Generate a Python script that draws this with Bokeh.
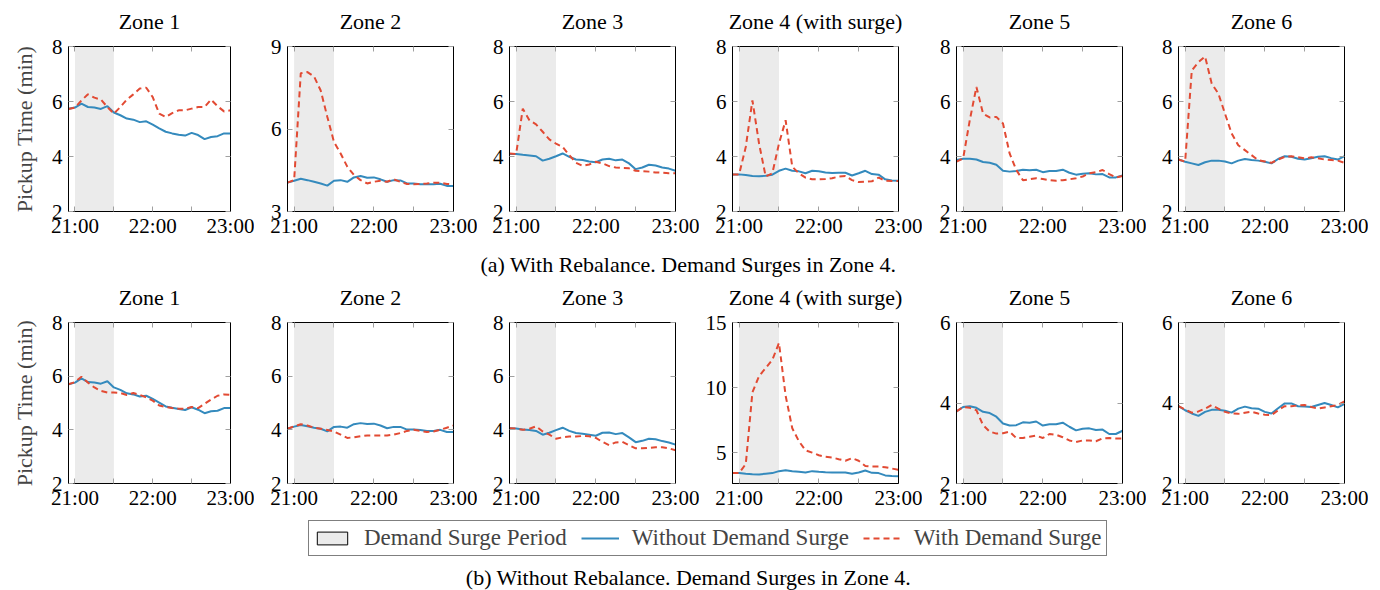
from bokeh.plotting import figure
from bokeh.models import (Range1d, LinearAxis, FixedTicker, BoxAnnotation, Legend,
                          LegendItem, Label, ColumnDataSource)
from bokeh.layouts import column, row
from bokeh.embed import file_html
from bokeh.resources import INLINE

# ---------------- data ----------------
times = ["20:55", "21:00", "21:05", "21:10", "21:15", "21:20", "21:25", "21:30", "21:35",
         "21:40", "21:45", "21:50", "21:55", "22:00", "22:05", "22:10", "22:15", "22:20",
         "22:25", "22:30", "22:35", "22:40", "22:45", "22:50", "22:55", "23:00"]
surge_period = ["21:00", "21:30"]
x_label_ticks = ["21:00", "22:00", "23:00"]
x_minor_ticks = ["21:30", "22:30"]
zones = ["Zone 1", "Zone 2", "Zone 3", "Zone 4 (with surge)", "Zone 5", "Zone 6"]

# (a) With Rebalance
a1_wo = [5.74, 5.78, 5.92, 5.80, 5.78, 5.73, 5.83, 5.60, 5.50, 5.38, 5.34, 5.25, 5.28, 5.16, 5.02, 4.90, 4.84, 4.79, 4.76, 4.86, 4.78, 4.63, 4.71, 4.74, 4.84, 4.84]
a1_w = [5.73, 5.78, 6.04, 6.26, 6.14, 6.07, 5.80, 5.56, 5.80, 6.07, 6.26, 6.47, 6.50, 6.16, 5.56, 5.44, 5.58, 5.68, 5.68, 5.74, 5.80, 5.80, 6.07, 5.83, 5.64, 5.68]
a2_wo = [4.05, 4.12, 4.19, 4.14, 4.08, 4.02, 3.94, 4.12, 4.14, 4.08, 4.24, 4.29, 4.23, 4.24, 4.17, 4.08, 4.14, 4.13, 4.02, 4.02, 3.99, 3.99, 3.99, 4.01, 3.93, 3.93]
a2_w = [4.05, 4.14, 8.03, 8.07, 7.91, 7.40, 6.44, 5.53, 5.11, 4.63, 4.33, 4.14, 4.02, 4.08, 4.12, 4.08, 4.17, 4.08, 4.00, 3.99, 4.00, 4.02, 4.05, 4.05, 4.00, 3.99]
a3_wo = [4.09, 4.09, 4.06, 4.04, 4.01, 3.85, 3.92, 4.01, 4.11, 3.99, 3.89, 3.87, 3.82, 3.79, 3.89, 3.92, 3.86, 3.89, 3.75, 3.54, 3.60, 3.70, 3.67, 3.60, 3.56, 3.48]
a3_w = [4.11, 4.09, 5.74, 5.32, 5.17, 4.90, 4.62, 4.47, 4.35, 4.05, 3.77, 3.66, 3.71, 3.81, 3.75, 3.65, 3.60, 3.58, 3.57, 3.48, 3.47, 3.45, 3.42, 3.41, 3.39, 3.39]
a4_wo = [3.35, 3.35, 3.33, 3.29, 3.28, 3.30, 3.34, 3.48, 3.56, 3.48, 3.46, 3.39, 3.48, 3.46, 3.42, 3.40, 3.41, 3.41, 3.31, 3.39, 3.48, 3.36, 3.34, 3.17, 3.13, 3.12]
a4_w = [3.35, 3.35, 4.35, 6.04, 4.47, 3.27, 3.39, 4.47, 5.32, 3.63, 3.39, 3.23, 3.17, 3.17, 3.18, 3.21, 3.27, 3.29, 3.14, 3.07, 3.08, 3.10, 3.23, 3.12, 3.11, 3.11]
a5_wo = [3.87, 3.92, 3.92, 3.89, 3.80, 3.77, 3.70, 3.48, 3.45, 3.47, 3.52, 3.50, 3.52, 3.43, 3.47, 3.47, 3.52, 3.41, 3.34, 3.37, 3.39, 3.35, 3.36, 3.24, 3.24, 3.31]
a5_w = [3.81, 3.93, 5.32, 6.53, 5.56, 5.42, 5.44, 5.20, 4.11, 3.51, 3.14, 3.17, 3.21, 3.18, 3.14, 3.12, 3.14, 3.17, 3.21, 3.27, 3.39, 3.43, 3.51, 3.36, 3.24, 3.29]
a6_wo = [3.89, 3.81, 3.75, 3.69, 3.79, 3.85, 3.85, 3.82, 3.75, 3.85, 3.91, 3.87, 3.85, 3.81, 3.75, 3.91, 4.01, 3.99, 3.92, 3.89, 3.94, 3.99, 4.01, 3.94, 3.89, 4.01]
a6_w = [3.89, 3.81, 7.13, 7.43, 7.64, 6.65, 6.29, 5.56, 4.84, 4.41, 4.23, 4.05, 3.87, 3.82, 3.77, 3.89, 3.99, 4.01, 3.97, 3.93, 3.97, 3.94, 3.89, 3.87, 3.85, 3.77]

# (b) Without Rebalance
b1_wo = [5.70, 5.76, 5.92, 5.78, 5.76, 5.72, 5.81, 5.58, 5.49, 5.36, 5.32, 5.24, 5.27, 5.15, 5.01, 4.87, 4.82, 4.78, 4.74, 4.84, 4.75, 4.62, 4.69, 4.71, 4.81, 4.81]
b1_w = [5.70, 5.78, 5.98, 5.76, 5.58, 5.45, 5.39, 5.39, 5.37, 5.30, 5.37, 5.30, 5.21, 5.09, 4.91, 4.85, 4.81, 4.79, 4.79, 4.85, 4.81, 4.97, 5.13, 5.27, 5.32, 5.30]
b2_wo = [4.04, 4.12, 4.18, 4.13, 4.08, 4.04, 3.94, 4.11, 4.12, 4.08, 4.21, 4.25, 4.22, 4.23, 4.16, 4.06, 4.11, 4.11, 4.01, 4.01, 3.99, 3.96, 3.96, 4.00, 3.92, 3.92]
b2_w = [4.04, 4.13, 4.21, 4.16, 4.08, 4.04, 3.99, 3.94, 3.82, 3.70, 3.72, 3.76, 3.79, 3.79, 3.79, 3.79, 3.82, 3.88, 3.96, 4.00, 3.96, 3.92, 3.94, 4.00, 4.08, 4.16]
b3_wo = [4.06, 4.05, 4.01, 3.99, 3.96, 3.82, 3.89, 3.99, 4.08, 3.96, 3.88, 3.85, 3.82, 3.78, 3.89, 3.90, 3.84, 3.88, 3.72, 3.54, 3.59, 3.67, 3.65, 3.58, 3.53, 3.45]
b3_w = [4.06, 4.05, 4.00, 4.04, 4.13, 3.94, 3.82, 3.67, 3.72, 3.75, 3.75, 3.77, 3.76, 3.70, 3.55, 3.43, 3.53, 3.55, 3.43, 3.31, 3.31, 3.33, 3.35, 3.35, 3.31, 3.24]
b4_wo = [3.43, 3.43, 3.38, 3.35, 3.33, 3.38, 3.43, 3.58, 3.65, 3.58, 3.53, 3.48, 3.58, 3.53, 3.50, 3.48, 3.48, 3.48, 3.38, 3.48, 3.63, 3.45, 3.43, 3.25, 3.20, 3.18]
b4_w = [3.43, 3.43, 4.13, 9.63, 10.88, 11.50, 12.13, 13.43, 9.38, 6.88, 5.88, 5.18, 5.00, 4.80, 4.68, 4.63, 4.50, 4.38, 4.58, 4.38, 3.98, 3.93, 3.93, 3.88, 3.78, 3.68]
b5_wo = [3.79, 3.90, 3.92, 3.88, 3.78, 3.75, 3.66, 3.49, 3.44, 3.45, 3.52, 3.51, 3.54, 3.44, 3.47, 3.47, 3.51, 3.41, 3.32, 3.36, 3.37, 3.33, 3.34, 3.23, 3.23, 3.31]
b5_w = [3.79, 3.90, 3.88, 3.82, 3.45, 3.29, 3.24, 3.25, 3.29, 3.13, 3.13, 3.16, 3.19, 3.13, 3.23, 3.21, 3.15, 3.07, 3.03, 3.07, 3.07, 3.05, 3.12, 3.13, 3.12, 3.12]
b6_wo = [3.92, 3.82, 3.74, 3.68, 3.78, 3.83, 3.83, 3.81, 3.76, 3.86, 3.91, 3.87, 3.86, 3.78, 3.74, 3.87, 3.99, 3.99, 3.92, 3.91, 3.90, 3.95, 4.00, 3.95, 3.89, 3.98]
b6_w = [3.92, 3.84, 3.76, 3.79, 3.86, 3.95, 3.86, 3.78, 3.74, 3.73, 3.76, 3.78, 3.74, 3.71, 3.70, 3.82, 3.92, 3.92, 3.94, 3.95, 3.90, 3.86, 3.89, 3.92, 3.95, 4.04]

ylims_a = [(2, 8), (3, 9), (2, 8), (2, 8), (2, 8), (2, 8)]
yticks_a = [[2, 4, 6, 8], [3, 6, 9], [2, 4, 6, 8], [2, 4, 6, 8], [2, 4, 6, 8], [2, 4, 6, 8]]
ylims_b = [(2, 8), (2, 8), (2, 8), (2.63, 15), (2, 6), (2, 6)]
yticks_b = [[2, 4, 6, 8], [2, 4, 6, 8], [2, 4, 6, 8], [5, 10, 15], [2, 4, 6], [2, 4, 6]]

caption_a = "(a) With Rebalance. Demand Surges in Zone 4."
caption_b = "(b) Without Rebalance. Demand Surges in Zone 4."
y_label = "Pickup Time (min)"
legend_labels = ["Demand Surge Period", "Without Demand Surge", "With Demand Surge"]

# ---------------- style ----------------
FONT = "Liberation Serif"
TICK_FS = "21px"
TITLE_FS = "22px"
BLUE = "#348ABD"
RED = "#E24A33"
SHADE = "#ebebeb"
TICKC = "#a0a0a0"
DASH = "6 4"


def mins(t):
    h, m = t.split(":")
    return int(h) * 60 + int(m)


xs = [mins(t) for t in times]
x_major = [mins(t) for t in x_label_ticks]
x_minor = [mins(t) for t in x_minor_ticks]
x_over = {k: v for k, v in zip(x_major, x_label_ticks)}

FRAME_W = 166
LEFTS = [56, 33, 32, 33, 34, 32]
RIGHT = 24


def base_axis(ax, major, minor):
    ax.ticker = FixedTicker(ticks=major, minor_ticks=minor)
    ax.major_tick_in = 5
    ax.major_tick_out = 0
    ax.minor_tick_in = 5
    ax.minor_tick_out = 0
    ax.major_tick_line_color = TICKC
    ax.minor_tick_line_color = TICKC
    ax.major_tick_line_width = 1
    ax.minor_tick_line_width = 1
    ax.axis_line_color = "black"
    ax.axis_line_width = 1
    ax.major_label_text_font = FONT
    ax.major_label_text_font_size = TICK_FS
    ax.major_label_text_color = "black"


def panel(i, title, wo, w, ylim, yticks, btop, bbot):
    width = LEFTS[i] + FRAME_W + RIGHT
    height = btop + 165 + bbot
    p = figure(width=width, height=height, output_backend="svg", toolbar_location=None,
               x_range=Range1d(xs[0], xs[-1]), y_range=Range1d(*ylim),
               min_border_left=LEFTS[i], min_border_right=RIGHT,
               min_border_top=btop, min_border_bottom=bbot,
               x_axis_type=None, y_axis_type=None)
    p.grid.visible = False
    p.outline_line_color = "black"

    p.add_layout(BoxAnnotation(left=mins(surge_period[0]), right=mins(surge_period[1]),
                               fill_color=SHADE, fill_alpha=1, line_color=None,
                               level="underlay"))
    src = ColumnDataSource(dict(x=xs, wo=wo, w=w))
    p.line("x", "wo", source=src, line_color=BLUE, line_width=2)
    p.line("x", "w", source=src, line_color=RED, line_width=2, line_dash=DASH)

    xb = LinearAxis()
    base_axis(xb, x_major, x_minor)
    xb.major_label_overrides = x_over
    xb.major_label_standoff = 2
    p.add_layout(xb, "below")

    # top axis: tick marks only, panel title as its label
    xa = LinearAxis()
    base_axis(xa, [], x_major + x_minor)
    xa.axis_label = title
    xa.axis_label_text_font = FONT
    xa.axis_label_text_font_size = TITLE_FS
    xa.axis_label_text_font_style = "normal"
    xa.axis_label_text_color = "black"
    xa.axis_label_standoff = 13
    p.add_layout(xa, "above")

    yl = LinearAxis()
    base_axis(yl, yticks, [])
    yl.major_label_standoff = 6
    if i == 0:
        yl.axis_label = y_label
        yl.axis_label_text_font = FONT
        yl.axis_label_text_font_size = "22px"
        yl.axis_label_text_font_style = "normal"
        yl.axis_label_standoff = 12
    p.add_layout(yl, "left")

    yr = LinearAxis()
    base_axis(yr, [], yticks)
    p.add_layout(yr, "right")
    return p


series_a = [(a1_wo, a1_w), (a2_wo, a2_w), (a3_wo, a3_w), (a4_wo, a4_w), (a5_wo, a5_w), (a6_wo, a6_w)]
series_b = [(b1_wo, b1_w), (b2_wo, b2_w), (b3_wo, b3_w), (b4_wo, b4_w), (b5_wo, b5_w), (b6_wo, b6_w)]

row_a = row([panel(i, zones[i], s[0], s[1], ylims_a[i], yticks_a[i], 44, 39)
             for i, s in enumerate(series_a)], spacing=0)
row_b = row([panel(i, zones[i], s[0], s[1], ylims_b[i], yticks_b[i], 44, 25)
             for i, s in enumerate(series_b)], spacing=0)

TOTAL_W = sum(LEFTS) + 6 * (FRAME_W + RIGHT)


def text_fig(txt, height, size):
    f = figure(width=TOTAL_W, height=height, output_backend="svg", toolbar_location=None,
               x_range=Range1d(0, 1), y_range=Range1d(0, 1), x_axis_type=None,
               y_axis_type=None, min_border=0, outline_line_color=None)
    f.grid.visible = False
    f.add_layout(Label(x=0.5, y=0.5, text=txt, text_align="center", text_baseline="middle",
                       text_font=FONT, text_font_size=size, text_color="black"))
    return f


cap_a = text_fig(caption_a, 28, "22px")
cap_b = text_fig(caption_b, 26, "22px")

# legend figure: the sample renderers reuse real data that lies outside this
# figure's ranges, so only the legend swatches show
leg_fig = figure(width=TOTAL_W, height=52, output_backend="svg", toolbar_location=None,
                 x_range=Range1d(0, 1), y_range=Range1d(0, 1), x_axis_type=None,
                 y_axis_type=None, min_border=0, outline_line_color=None)
leg_fig.grid.visible = False
leg_src = ColumnDataSource(dict(x=xs, wo=a1_wo, w=a1_w))
r_shade = leg_fig.quad(left=[mins(surge_period[0])], right=[mins(surge_period[1])],
                       top=[ylims_a[0][1]], bottom=[ylims_a[0][0]],
                       fill_color=SHADE, line_color="black", line_width=1)
r_blue = leg_fig.line("x", "wo", source=leg_src, line_color=BLUE, line_width=2)
r_red = leg_fig.line("x", "w", source=leg_src, line_color=RED, line_width=2, line_dash=DASH)
legend = Legend(items=[LegendItem(label=legend_labels[0], renderers=[r_shade]),
                       LegendItem(label=legend_labels[1], renderers=[r_blue]),
                       LegendItem(label=legend_labels[2], renderers=[r_red])],
                orientation="horizontal", location=(300, 8),
                label_text_font=FONT, label_text_font_size="23px",
                glyph_width=38, glyph_height=16, label_standoff=13, spacing=14,
                padding=4, margin=0, border_line_color="black", border_line_width=1,
                background_fill_alpha=1)
leg_fig.add_layout(legend, "center")

layout = column([row_a, cap_a, row_b, leg_fig, cap_b], spacing=0, margin=(2, 0, 0, 8))

open("out.html", "w").write(file_html(layout, INLINE))
